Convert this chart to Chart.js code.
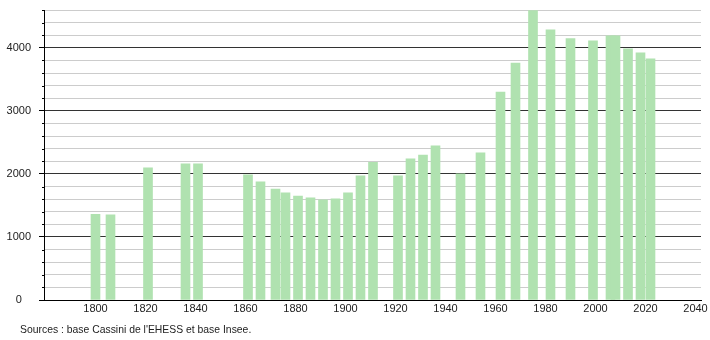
<!DOCTYPE html>
<html>
<head>
<meta charset="utf-8">
<script src="https://cdn.jsdelivr.net/npm/chart.js@4.4.1/dist/chart.umd.min.js"></script>
<style>
  body { margin: 0; background: #fff; }
  #wrap { position: relative; width: 710px; height: 340px; }
  #source {
    position: absolute; left: 20px; top: 323px;
    font: 10.4px "Liberation Sans", Arial, sans-serif; line-height: 13px; color: #222;
  }
</style>
</head>
<body>
<div id="wrap">
  <canvas id="myChart"></canvas>
  <div id="source">Sources : base Cassini de l'EHESS et base Insee.</div>
</div>
<script>
// années des recensements
var years = [1800, 1806, 1821, 1836, 1841, 1861, 1866, 1872, 1876, 1881, 1886, 1891, 1896, 1901, 1906, 1911,
  1921, 1926, 1931, 1936, 1946, 1954, 1962, 1968, 1975, 1982, 1990, 1999, 2006, 2008, 2013, 2018, 2022];
// population
var population = [1360, 1350, 2095, 2160, 2160, 1985, 1875, 1760, 1700, 1650, 1620, 1590, 1605, 1700, 1970, 2185,
  1970, 2240, 2300, 2445, 2000, 2335, 3300, 3760, 4590, 4285, 4145, 4110, 4190, 4190, 3985, 3920, 3825];
var yearLabels = [1800, 1820, 1840, 1860, 1880, 1900, 1920, 1940, 1960, 1980, 2000, 2020, 2040];
var popLabels = [0, 1000, 2000, 3000, 4000];

var points = years.map(function (y, i) { return { x: y, y: population[i] }; });

// petits traits pour les graduations secondaires
var minorTicks = {
  id: 'minorTicks',
  afterDraw: function (chart) {
    var c = chart.ctx;
    var s = chart.scales.y;
    c.save();
    c.strokeStyle = '#000';
    c.lineWidth = 1;
    s.ticks.forEach(function (t) {
      if (popLabels.indexOf(t.value) >= 0) return;
      var py = Math.round(s.getPixelForValue(t.value)) + 0.5;
      c.beginPath();
      c.moveTo(s.right - 2, py);
      c.lineTo(s.right, py);
      c.stroke();
    });
    c.restore();
  }
};

var ctx = document.getElementById('myChart').getContext('2d');
var myChart = new Chart(ctx, {
  type: 'bar',
  data: {
    datasets: [{
      data: points,
      backgroundColor: 'rgb(176,226,176)',
      borderWidth: 0,
      barThickness: 9,
      grouped: false
    }]
  },
  options: {
    responsive: true,
    maintainAspectRatio: false,
    animation: false,
    layout: { padding: { top: 10, right: 9, bottom: 0, left: 0 } },
    plugins: { legend: { display: false }, tooltip: { enabled: false } },
    scales: {
      x: {
        type: 'linear',
        offset: false,
        min: 1779.4,
        max: 2042.2,
        afterFit: function (s) { s.height = 40; s.paddingLeft = 0; s.paddingRight = 0; },
        afterBuildTicks: function (s) {
          s.ticks = yearLabels.map(function (v) { return { value: v }; });
        },
        grid: { display: false, drawTicks: false, offset: false },
        border: { color: '#000' },
        ticks: {
          autoSkip: false,
          maxRotation: 0,
          padding: 2,
          color: '#222',
          font: { family: 'Liberation Sans', size: 11 },
          callback: function (v) { return String(v); }
        }
      },
      y: {
        min: 0,
        max: 4600,
        afterFit: function (s) { s.width = 44; s.paddingTop = 0; s.paddingBottom = 0; },
        border: { color: '#000' },
        grid: {
          color: function (c) { return popLabels.indexOf(c.tick.value) >= 0 ? '#333' : '#cccccc'; },
          tickColor: function (c) { return popLabels.indexOf(c.tick.value) >= 0 ? '#000' : 'rgba(0,0,0,0)'; },
          tickLength: 5
        },
        ticks: {
          stepSize: 200,
          autoSkip: false,
          padding: 8,
          crossAlign: 'center',
          color: '#222',
          font: { family: 'Liberation Sans', size: 11 },
          callback: function (v) { return popLabels.indexOf(v) >= 0 ? String(v) : ''; }
        }
      }
    }
  },
  plugins: [minorTicks]
});
</script>
</body>
</html>
